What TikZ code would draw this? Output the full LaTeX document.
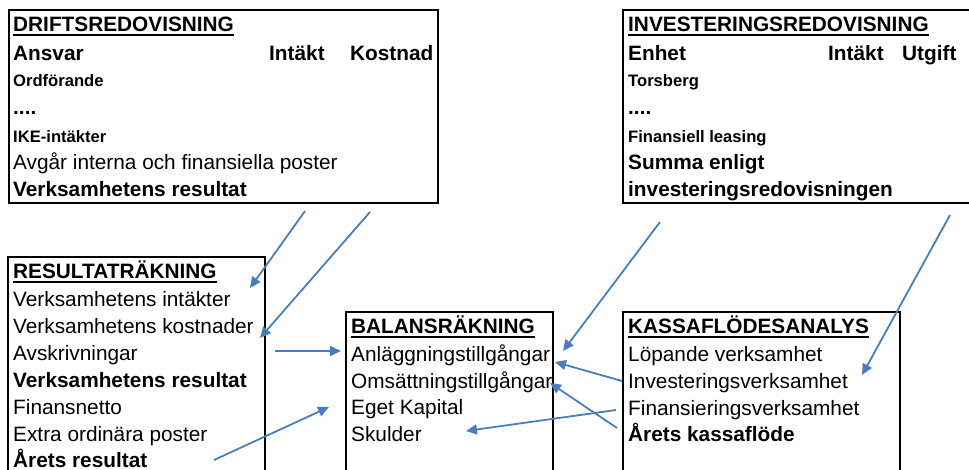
\documentclass[tikz,border=0pt]{standalone}
\usepackage{fontspec}
\setmainfont{Liberation Sans}
\usetikzlibrary{arrows.meta}
\definecolor{arrowblue}{RGB}{74,126,187}
\tikzset{
  boxst/.style={draw=black, line width=1.8pt, anchor=north west, inner sep=0pt, outer sep=0pt},
  big/.style={anchor=base west, inner sep=0pt, font=\fontsize{20.8}{25}\selectfont},
  bigb/.style={big, font=\fontsize{20.8}{25}\selectfont\bfseries},
  smallb/.style={anchor=base west, inner sep=0pt, font=\fontsize{16.6}{20}\selectfont\bfseries},
  uline/.style={line width=1.5pt},
  conn/.style={draw=arrowblue, line width=1.8pt, -{Triangle[length=11pt,width=10pt]}}
}
\begin{document}
\begin{tikzpicture}[x=1pt,y=-1pt]
\useasboundingbox (0,0) rectangle (969,470);
\fill[white] (0,0) rectangle (969,470);
\begin{scope}
\clip (0,0) rectangle (969,470);
% boxes
\node[boxst, minimum width=429pt, minimum height=193pt] (drift) at (9,10) {};
\node[boxst, minimum width=360pt, minimum height=193pt] (inv) at (623,10) {};
\node[boxst, minimum width=257pt, minimum height=230pt] (res) at (8,257) {};
\node[boxst, minimum width=207pt, minimum height=175pt] (bal) at (346,312) {};
\node[boxst, minimum width=277pt, minimum height=175pt] (kas) at (623,312) {};
\end{scope}

% DRIFTSREDOVISNING
\node[bigb] (d0) at (13,32) {DRIFTSREDOVISNING};
\draw[uline] ([yshift=-3pt]d0.base west) -- ([yshift=-3pt]d0.base east);
\node[bigb] (d1) at (13,61) {Ansvar};
\node[bigb] (d1b) at (269,61) {Intäkt};
\node[bigb] (d1c) at (350,61) {Kostnad};
\node[smallb] (d2) at (13,87) {Ordförande};
\node[bigb] (d3) at (13,115) {....};
\node[smallb] (d4) at (13,143) {IKE-intäkter};
\node[big] (d5) at (13,170) {Avgår interna och finansiella poster};
\node[bigb] (d6) at (13,197) {Verksamhetens resultat};

% INVESTERINGSREDOVISNING
\node[bigb] (i0) at (628,32) {INVESTERINGSREDOVISNING};
\draw[uline] ([yshift=-3pt]i0.base west) -- ([yshift=-3pt]i0.base east);
\node[bigb] (i1) at (628,61) {Enhet};
\node[bigb] (i1b) at (828,61) {Intäkt};
\node[bigb] (i1c) at (902,61) {Utgift};
\node[smallb] (i2) at (628,87) {Torsberg};
\node[bigb] (i3) at (628,115) {....};
\node[smallb] (i4) at (628,143) {Finansiell leasing};
\node[bigb] (i5) at (628,170) {Summa enligt};
\node[bigb] (i6) at (628,197) {investeringsredovisningen};

% RESULTATRÄKNING
\node[bigb] (r0) at (13,279) {RESULTATRÄKNING};
\draw[uline] ([yshift=-3pt]r0.base west) -- ([yshift=-3pt]r0.base east);
\node[big] (r1) at (13,306) {Verksamhetens intäkter};
\node[big] (r2) at (13,333) {Verksamhetens kostnader};
\node[big] (r3) at (13,360) {Avskrivningar};
\node[bigb] (r4) at (13,387) {Verksamhetens resultat};
\node[big] (r5) at (13,414) {Finansnetto};
\node[big] (r6) at (13,441) {Extra ordinära poster};
\node[bigb] (r7) at (13,467) {Årets resultat};

% BALANSRÄKNING
\node[bigb] (b0) at (351,334) {BALANSRÄKNING};
\draw[uline] ([yshift=-3pt]b0.base west) -- ([yshift=-3pt]b0.base east);
\node[big] (b1) at (351,361) {Anläggningstillgångar};
\node[big] (b2) at (351,388) {Omsättningstillgångar};
\node[big] (b3) at (351,414) {Eget Kapital};
\node[big] (b4) at (351,441) {Skulder};

% KASSAFLÖDESANALYS
\node[bigb] (k0) at (628,334) {KASSAFLÖDESANALYS};
\draw[uline] ([yshift=-3pt]k0.base west) -- ([yshift=-3pt]k0.base east);
\node[big] (k1) at (628,361) {Löpande verksamhet};
\node[big] (k2) at (628,388) {Investeringsverksamhet};
\node[big] (k3) at (628,415) {Finansieringsverksamhet};
\node[bigb] (k4) at (628,441) {Årets kassaflöde};

% arrow end points
\coordinate (a1s) at (305,211); \coordinate (a1e) at (250,288);
\coordinate (a2s) at (370,212); \coordinate (a2e) at (260,338);
\coordinate (a3s) at (275,351); \coordinate (a3e) at (341,351);
\coordinate (a4s) at (214,460); \coordinate (a4e) at (329,407);
\coordinate (a5s) at (660,222); \coordinate (a5e) at (563,351);
\coordinate (a6s) at (950,215); \coordinate (a6e) at (862,375);
\coordinate (a7s) at (622,381); \coordinate (a7e) at (555,362);
\coordinate (a8s) at (617,428); \coordinate (a8e) at (550,383);
\coordinate (a9s) at (616,410); \coordinate (a9e) at (466,431);

\draw[conn] (a1s) -- (a1e);
\draw[conn] (a2s) -- (a2e);
\draw[conn] (a3s) -- (a3e);
\draw[conn] (a4s) -- (a4e);
\draw[conn] (a5s) -- (a5e);
\draw[conn] (a6s) -- (a6e);
\draw[conn] (a7s) -- (a7e);
\draw[conn] (a8s) -- (a8e);
\draw[conn] (a9s) -- (a9e);
\end{tikzpicture}
\end{document}
